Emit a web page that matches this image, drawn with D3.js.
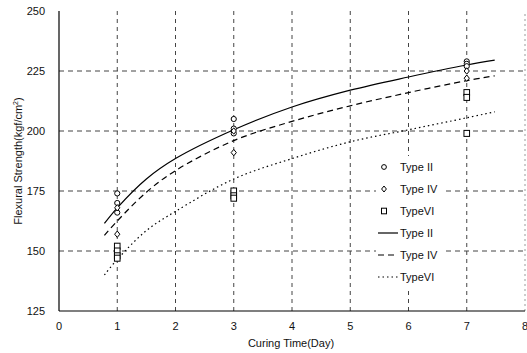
<!DOCTYPE html>
<html>
<head>
<meta charset="utf-8">
<script src="https://cdn.jsdelivr.net/npm/d3@7"></script>
<style>
body { margin: 0; background: #fff; }
text { font-family: "Liberation Sans", Arial, sans-serif; fill: #111; }
</style>
</head>
<body>
<script>
// measured points, grouped by curing day
var days = [1, 3, 7];
var type2Pts = [[174, 170, 166], [205, 201, 199], [229, 228, 227]];
var type4Pts = [[168, 157], [200, 191], [225, 222]];
var type6Pts = [[152, 150, 148, 147], [175, 173, 172], [216, 214, 199]];

// fitted curves
var curveDays = [0.78, 1, 1.5, 2, 3, 4, 5, 6, 7, 7.48];
var type2Fit = [161.5, 168, 180, 188.5, 200.5, 210, 217, 222.5, 227.5, 229.5];
var type4Fit = [156.5, 162.5, 174.5, 183.5, 196, 204, 210.5, 216, 221, 223];
var type6Fit = [140, 146.5, 158.5, 166.5, 180, 188.5, 195.5, 200.5, 205.5, 208];

var xTicks = [0, 1, 2, 3, 4, 5, 6, 7, 8];
var yTicks = [125, 150, 175, 200, 225, 250];
var xGrid = [1, 2, 3, 4, 5, 6, 7, 8];
var yGrid = [150, 175, 200, 225];
var legendNames = ["Type II", "Type IV", "TypeVI", "Type II", "Type IV", "TypeVI"];

var W = 527, H = 353;
var svg = d3.select("body").append("svg").attr("width", W).attr("height", H);

var x = d3.scaleLinear().domain([0, 8]).range([59, 525]);
var y = d3.scaleLinear().domain([125, 250]).range([311, 11]);

// grid
svg.append("g").selectAll("line").data(yGrid).enter().append("line")
  .attr("x1", x(0)).attr("x2", x(8))
  .attr("y1", d => y(d)).attr("y2", d => y(d))
  .attr("stroke", "#444").attr("stroke-width", 1).attr("stroke-dasharray", "5,4");
svg.append("g").selectAll("line").data(xGrid).enter().append("line")
  .attr("x1", d => x(d)).attr("x2", d => x(d))
  .attr("y1", y(125)).attr("y2", y(250))
  .attr("stroke", d => d == 8 ? "#999" : "#444").attr("stroke-width", 1)
  .attr("stroke-dasharray", d => d == 8 ? "2,3" : "4,4");

// axes lines
svg.append("line").attr("x1", x(0)).attr("x2", x(0)).attr("y1", y(125)).attr("y2", y(250))
  .attr("stroke", "#000").attr("stroke-width", 1.2);
svg.append("line").attr("x1", x(0)).attr("x2", x(8)).attr("y1", y(125)).attr("y2", y(125))
  .attr("stroke", "#000").attr("stroke-width", 1.2);

// tick labels
svg.append("g").selectAll("text").data(yTicks).enter().append("text")
  .attr("x", 45).attr("y", d => y(d) + 4).attr("text-anchor", "end")
  .attr("font-size", 11).text(d => d);
svg.append("g").selectAll("text").data(xTicks).enter().append("text")
  .attr("x", d => x(d)).attr("y", 330).attr("text-anchor", "middle")
  .attr("font-size", 11).text(d => d);

// axis titles
svg.append("text").attr("x", 291).attr("y", 347).attr("text-anchor", "middle")
  .attr("font-size", 11).text("Curing Time(Day)");
var yt = svg.append("text").attr("transform", "translate(22,161) rotate(-90)")
  .attr("text-anchor", "middle").attr("font-size", 11).attr("fill", "#111");
yt.append("tspan").attr("fill", "#111").text("Flexural Strength(kgf/cm");
yt.append("tspan").attr("fill", "#111").attr("font-size", 7).attr("dy", -4).text("2");
yt.append("tspan").attr("fill", "#111").attr("dy", 4).text(")");

// curves
var line = d3.line().x(d => x(d[0])).y(d => y(d[1])).curve(d3.curveCatmullRom.alpha(0.5));
var fits = [
  {v: type2Fit, dash: null, w: 1.2},
  {v: type4Fit, dash: "6,4", w: 1.2},
  {v: type6Fit, dash: "1.5,3", w: 1.2}
];
fits.forEach(function(f) {
  svg.append("path").datum(curveDays.map((d, i) => [d, f.v[i]]))
    .attr("d", line).attr("fill", "none").attr("stroke", "#000")
    .attr("stroke-width", f.w).attr("stroke-dasharray", f.dash);
});

// markers
function flat(pts) {
  var out = [];
  pts.forEach((vals, i) => vals.forEach(v => out.push([days[i], v])));
  return out;
}
svg.append("g").selectAll("circle").data(flat(type2Pts)).enter().append("circle")
  .attr("cx", d => x(d[0])).attr("cy", d => y(d[1])).attr("r", 2.6)
  .attr("fill", "#fff").attr("stroke", "#000").attr("stroke-width", 1);
svg.append("g").selectAll("path").data(flat(type4Pts)).enter().append("path")
  .attr("transform", d => "translate(" + x(d[0]) + "," + y(d[1]) + ")")
  .attr("d", "M0,-3.2L2.6,0L0,3.2L-2.6,0Z")
  .attr("fill", "#fff").attr("stroke", "#000").attr("stroke-width", 1);
svg.append("g").selectAll("rect").data(flat(type6Pts)).enter().append("rect")
  .attr("x", d => x(d[0]) - 2.8).attr("y", d => y(d[1]) - 3)
  .attr("width", 5.6).attr("height", 6)
  .attr("fill", "#fff").attr("stroke", "#000").attr("stroke-width", 1);

// legend
var lg = svg.append("g");
lg.append("rect").attr("x", 376).attr("y", 156).attr("width", 67).attr("height", 134).attr("fill", "#fff");
var rowY = d3.scaleLinear().domain([0, 5]).range([167, 277]);
legendNames.forEach(function(n, i) {
  var cy = rowY(i);
  if (i == 0) lg.append("circle").attr("cx", 384).attr("cy", cy).attr("r", 2.4)
    .attr("fill", "#fff").attr("stroke", "#000");
  if (i == 1) lg.append("path").attr("transform", "translate(384," + cy + ")")
    .attr("d", "M0,-3L2.4,0L0,3L-2.4,0Z").attr("fill", "#fff").attr("stroke", "#000");
  if (i == 2) lg.append("rect").attr("x", 381.5).attr("y", cy - 2.8).attr("width", 5).attr("height", 5.6)
    .attr("fill", "#fff").attr("stroke", "#000");
  if (i >= 3) lg.append("line").attr("x1", 378).attr("x2", 398).attr("y1", cy).attr("y2", cy)
    .attr("stroke", "#000").attr("stroke-width", 1.2)
    .attr("stroke-dasharray", fits[i - 3].dash);
  lg.append("text").attr("x", 400).attr("y", cy + 4).attr("font-size", 11).text(n);
});
</script>
</body>
</html>
